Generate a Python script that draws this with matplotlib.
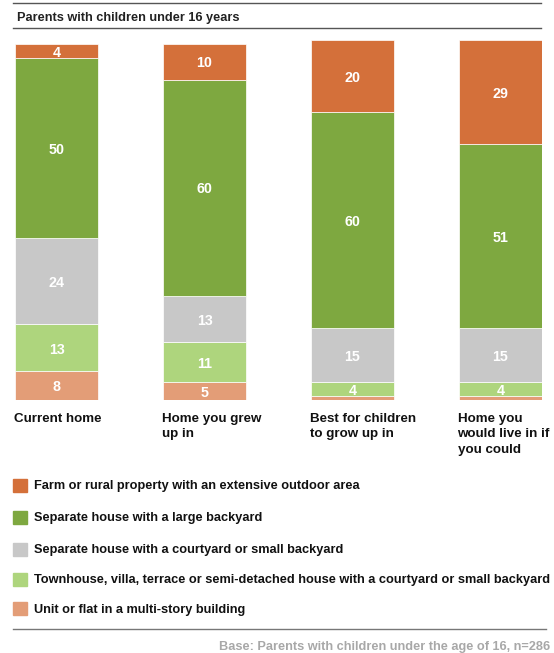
import matplotlib
matplotlib.use("Agg")
import matplotlib.pyplot as plt
from matplotlib.patches import Rectangle
import numpy as np

plt.rcParams['font.family'] = ['Liberation Sans', 'DejaVu Sans']

categories = ["Current home", "Home you grew\nup in", "Best for children\nto grow up in",
              "Home you\nwould live in if\nyou could"]
series_names = [
    "Unit or flat in a multi-story building",
    "Townhouse, villa, terrace or semi-detached house with a courtyard or small backyard",
    "Separate house with a courtyard or small backyard",
    "Separate house with a large backyard",
    "Farm or rural property with an extensive outdoor area",
]
unit_flat = [8, 5, 1, 1]
townhouse = [13, 11, 4, 4]
sep_small = [24, 13, 15, 15]
sep_large = [50, 60, 60, 51]
farm = [4, 10, 20, 29]
values = [unit_flat, townhouse, sep_small, sep_large, farm]
colors = ["#E39D77", "#AED57D", "#C8C8C8", "#7EA840", "#D4703A"]
title = "Parents with children under 16 years"
footer = "Base: Parents with children under the age of 16, n=286"

W, H = 554, 653
fig = plt.figure(figsize=(W / 100, H / 100), dpi=100)

def fx(px):
    return px / W

def fy(py):
    return 1 - py / H

# top rules and title
fig.add_artist(plt.Line2D([fx(13), fx(541)], [fy(3), fy(3)], color="#555555", lw=1.0))
fig.text(fx(17), fy(17.5), title, fontsize=9.2, fontweight="bold", va="center", ha="left", color="#222222")
fig.add_artist(plt.Line2D([fx(13), fx(541)], [fy(28), fy(28)], color="#555555", lw=1.0))

bw = 83 / 148
ax = fig.add_axes([fx(15), fy(400), fx(542 - 15), fy(40) - fy(400)])
x = np.arange(len(categories))
bottom = np.zeros(len(categories))
for vals, col in zip(values, colors):
    vals = np.array(vals, dtype=float)
    ax.bar(x, vals, bw, bottom=bottom, color=col, edgecolor="white", linewidth=0.5)
    for xi, v, b in zip(x, vals, bottom):
        if v >= 3:
            ax.text(xi, b + v / 2 - 0.5, f"{int(v)}", ha="center", va="center", color="white",
                    fontsize=10.3, fontweight="bold")
    bottom += vals
ax.set_xlim(-bw / 2, 3 + bw / 2)
ax.set_ylim(0, 100)
ax.axis("off")

for xi, cat in zip(x, categories):
    ax.text(xi - bw / 2 - 0.01, -3.6, cat, ha="left", va="top", fontsize=9.6, fontweight="bold",
            color="#111111", linespacing=1.38)

# legend
leg_y = [485, 517, 549, 579, 608]
for name, col, yy in zip(series_names[::-1], colors[::-1], leg_y):
    fig.add_artist(Rectangle((fx(13), fy(yy + 6.5)), fx(13.5), fy(yy - 6.5) - fy(yy + 6.5),
                             color=col, transform=fig.transFigure))
    fig.text(fx(34), fy(yy + 1.5), name, fontsize=9.15, fontweight="bold", va="center", ha="left",
             color="#111111")

fig.add_artist(plt.Line2D([fx(13), fx(546)], [fy(629), fy(629)], color="#777777", lw=1.0))
fig.text(fx(550), fy(647), footer, fontsize=9.2, fontweight="bold", va="center", ha="right",
         color="#A8A8A8")

fig.savefig("out.png", dpi=100)
